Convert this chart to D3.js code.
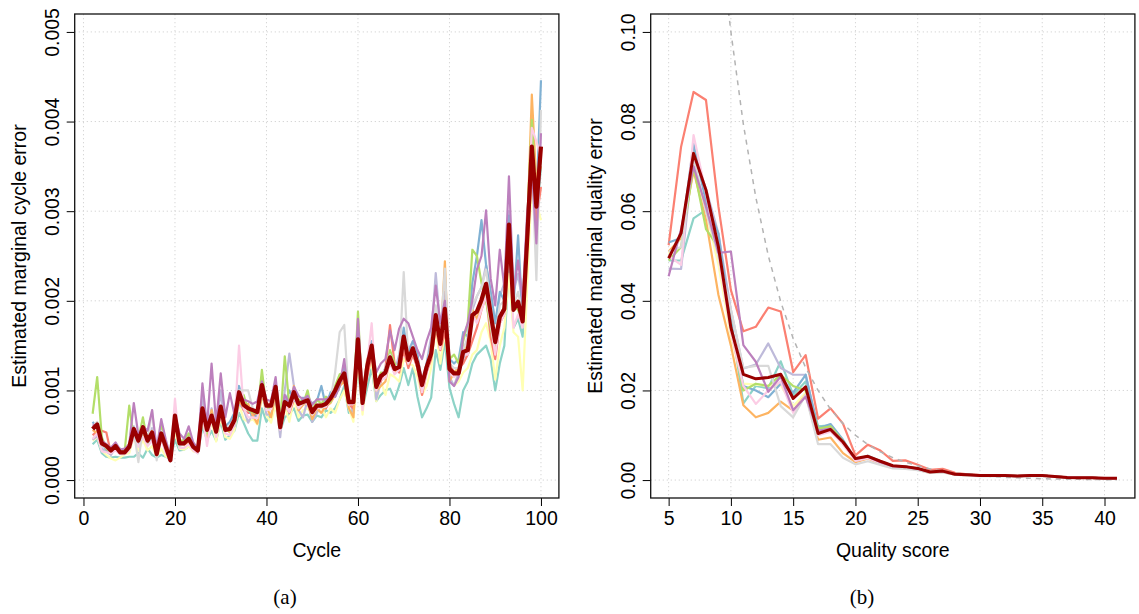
<!DOCTYPE html>
<html>
<head>
<meta charset="utf-8">
<script src="https://cdn.jsdelivr.net/npm/d3@7"></script>
<style>
  body { margin: 0; background: #fff; }
  text { font-family: "Liberation Sans", Arial, sans-serif; }
</style>
</head>
<body>
<svg id="fig"></svg>
<script>
// ---- data: panel (a), marginal cycle error, values in units of 1e-4 ----
var cycles = d3.range(2, 101);
var cycleUnit = 1e-4;

var cycleTeal = [4.0,4.5,3.0,2.6,2.5,2.6,2.5,2.5,2.6,
  2.6,3.0,2.5,3.5,2.8,2.5,2.8,2.6,2.4,4.5,
  3.3,3.4,3.8,3.6,3.0,6.0,4.5,5.5,4.4,6.6,
  4.5,5.0,5.5,7.5,6.4,5.2,4.4,4.4,8.0,6.5,
  7.4,8.5,5.5,7.0,7.4,8.0,6.6,7.2,7.3,6.5,
  7.2,7.0,7.8,7.5,8.0,9.0,10.5,7.5,7.8,12.5,
  8.0,10.3,12.5,8.8,9.5,10.0,10.2,9.0,10.5,12.5,
  10.6,12.5,9.3,7.0,8.0,9.2,14.5,12.3,15.5,10.3,
  8.5,7.0,10.0,11.0,13.0,14.0,14.5,15.0,13.5,10.0,
  13.0,15.0,24.0,17.0,18.0,16.0,25.0,34.0,29.0,35.0];
var cycleYellow = [4.4,4.8,3.3,2.8,2.4,2.2,2.5,2.9,3.0,
  4.8,3.3,4.5,3.3,3.8,2.6,3.5,2.6,2.5,5.5,
  3.5,3.4,3.8,3.2,3.1,6.8,4.3,6.5,4.3,7.0,
  4.8,4.6,5.6,8.5,6.8,6.5,6.8,6.2,9.5,7.2,
  6.4,8.5,5.2,8.2,6.5,9.0,7.0,7.8,8.0,7.4,
  7.5,8.2,7.0,8.0,7.5,9.0,10.0,8.0,6.5,13.5,
  7.3,12.0,13.0,8.8,11.0,9.5,11.8,11.5,11.0,13.5,
  13.0,12.8,11.5,9.5,10.5,12.5,17.0,13.0,16.5,11.5,
  10.5,11.0,12.0,12.5,14.0,14.5,16.5,17.5,15.5,11.2,
  15.0,17.0,23.0,16.5,16.0,10.0,22.0,33.0,31.0,29.0];
var cycleLavender = [4.5,4.9,3.5,3.2,2.8,3.6,3.2,3.3,3.5,
  6.0,4.5,5.2,4.0,5.8,3.0,5.0,3.8,2.4,6.5,
  4.0,4.2,4.8,3.8,3.2,9.5,5.5,8.0,5.6,10.0,
  5.5,6.0,6.0,8.6,7.9,6.4,7.5,7.0,10.3,7.3,
  7.3,9.5,4.8,10.0,14.1,10.5,7.8,7.0,9.0,6.5,
  7.5,8.5,9.0,9.5,9.5,10.8,12.0,9.0,7.5,14.5,
  9.0,13.0,15.5,9.0,11.0,12.5,13.0,12.0,14.0,16.5,
  14.5,15.5,13.8,11.0,13.0,16.0,23.1,17.0,21.0,11.5,
  10.5,12.0,13.5,14.8,19.0,20.5,21.5,24.0,21.0,17.5,
  20.5,22.0,30.0,21.0,23.0,19.5,29.0,36.0,32.0,36.0];
var cycleSalmon = [5.0,5.5,5.5,5.3,3.0,3.8,3.3,3.2,4.0,
  5.0,4.2,5.5,4.8,4.8,3.0,5.2,3.5,2.4,6.8,
  4.5,4.0,4.5,3.5,3.5,7.5,5.8,6.5,6.2,7.0,
  5.5,6.0,6.5,9.5,7.8,7.5,7.5,7.0,9.8,8.5,
  8.5,10.0,6.5,8.5,7.5,9.0,8.5,9.0,8.5,7.5,
  8.0,8.5,8.0,9.0,9.5,10.5,11.5,8.5,8.0,14.0,
  9.0,11.5,14.0,10.5,11.0,12.5,17.3,13.0,12.0,14.5,
  12.5,14.0,12.5,9.5,12.0,13.5,17.0,14.5,16.5,13.0,
  12.0,12.5,13.0,14.0,15.5,17.0,19.0,20.5,16.0,13.5,
  17.5,18.5,26.0,19.5,20.0,19.0,26.0,34.0,29.0,32.7];
var cycleBlue = [6.5,5.8,4.0,3.4,3.0,3.4,3.5,3.1,3.6,
  4.8,4.0,5.5,4.0,5.0,3.0,4.8,3.2,2.8,6.5,
  4.0,4.2,4.5,3.5,3.8,7.5,6.0,6.8,6.0,7.5,
  6.0,6.5,7.5,10.5,8.5,8.0,7.0,7.2,9.5,8.0,
  8.0,9.5,6.0,8.5,10.0,9.0,8.3,9.2,8.5,8.6,
  8.8,10.5,8.2,9.8,9.3,10.5,12.5,8.5,8.8,16.5,
  8.5,12.8,15.5,10.5,11.5,12.5,14.0,12.5,13.0,17.0,
  14.0,15.5,14.0,10.5,13.0,15.0,19.0,16.0,20.0,13.5,
  13.0,13.5,16.5,16.0,22.0,25.0,29.0,24.0,21.0,17.5,
  21.0,20.0,29.5,19.5,27.3,18.0,28.0,36.5,31.0,44.6];
var cycleOrange = [5.6,5.2,4.3,3.5,3.2,3.6,3.0,3.4,3.9,
  5.3,4.3,5.0,4.5,5.5,3.2,4.6,3.4,2.5,6.8,
  4.2,3.9,4.3,3.7,3.6,7.8,4.8,7.8,5.0,8.0,
  5.8,5.3,7.0,8.8,8.2,8.5,7.2,6.3,9.5,8.2,
  7.0,9.8,6.0,8.2,8.0,10.5,7.8,8.4,8.6,6.8,
  8.0,7.5,8.3,8.6,9.5,10.5,11.0,8.0,7.0,15.0,
  9.5,13.5,14.5,10.0,10.5,11.0,13.5,12.0,13.0,15.5,
  13.0,14.5,12.5,10.0,12.5,14.5,19.0,15.0,24.4,11.0,
  12.0,12.5,15.0,14.5,19.0,18.0,19.5,21.0,17.5,14.5,
  18.0,19.0,27.0,19.5,19.0,18.5,28.0,43.0,33.0,35.0];
var cycleGreen = [7.4,11.5,4.8,3.5,3.1,3.9,3.4,3.2,8.3,
  4.6,4.6,7.0,4.2,5.2,3.3,6.2,3.6,2.5,6.8,
  4.3,4.5,5.2,3.8,3.5,7.8,5.2,7.3,5.3,8.2,
  5.6,5.5,6.8,9.0,9.5,7.8,7.6,7.4,12.3,8.0,
  8.2,10.0,6.5,13.8,8.3,9.5,9.0,8.5,10.0,7.6,
  9.0,8.5,9.3,8.7,10.5,11.8,12.0,9.0,8.8,18.8,
  8.8,12.5,14.5,10.5,12.0,12.0,14.5,13.0,12.5,16.0,
  13.0,14.5,12.8,11.0,12.5,14.5,17.0,15.5,18.5,13.5,
  14.0,13.0,15.5,17.5,25.7,25.0,22.0,20.0,17.0,14.5,
  18.0,19.5,27.0,19.5,19.0,17.5,29.0,40.2,31.0,36.0];
var cyclePink = [4.6,5.2,3.2,3.1,3.0,3.3,2.9,2.9,3.3,
  4.8,3.7,4.8,3.8,4.4,2.8,4.6,3.0,2.3,9.1,
  3.6,3.6,4.0,3.3,3.0,7.5,3.8,7.0,4.8,7.5,
  5.2,5.0,6.2,15.0,8.0,7.0,7.0,6.9,10.0,7.8,
  7.9,10.0,5.6,8.4,7.6,9.3,8.0,8.6,8.5,7.3,
  8.0,8.1,8.2,9.0,9.9,11.0,11.5,8.4,8.5,15.5,
  7.8,13.0,17.5,10.0,11.2,11.4,13.2,11.8,12.3,15.4,
  13.0,14.4,12.6,9.8,12.0,14.0,18.0,14.6,18.8,12.0,
  11.5,12.0,14.0,14.0,18.5,17.5,19.0,20.5,17.5,14.0,
  17.5,18.5,27.0,17.0,18.5,17.0,27.0,39.3,37.8,36.0];
var cycleGrey = [6.0,6.5,3.8,3.6,3.2,3.9,3.0,3.0,3.5,
  5.5,2.0,6.0,4.5,7.8,2.2,5.5,4.2,2.3,6.8,
  3.8,4.0,4.8,3.5,3.4,8.2,5.8,7.3,5.2,8.2,
  5.8,6.0,6.8,10.0,10.0,10.0,8.0,7.6,10.5,8.4,
  8.4,10.2,6.0,8.5,8.2,9.8,8.6,8.6,8.7,7.4,
  8.4,8.1,8.4,9.0,12.0,16.5,17.3,9.0,8.6,15.0,
  8.5,12.5,15.0,10.6,11.5,12.5,14.0,12.5,13.0,23.2,
  13.5,15.0,13.5,11.0,12.5,15.0,19.5,16.0,23.6,13.0,
  12.5,12.5,14.5,16.0,19.5,20.5,21.5,23.5,19.5,16.0,
  19.5,20.0,28.0,19.5,21.0,18.5,28.0,36.0,22.3,41.3];
var cyclePurple = [6.2,6.0,4.4,4.0,3.6,4.2,3.4,3.5,4.0,
  8.6,5.0,6.0,5.5,7.8,3.5,6.8,4.5,2.6,7.2,
  5.2,4.6,6.0,4.2,3.5,10.8,6.0,13.0,6.3,11.9,
  7.0,9.7,7.3,9.5,9.0,8.8,8.5,8.8,11.0,9.0,
  8.8,11.5,6.5,9.5,8.6,10.4,9.4,9.0,9.4,8.4,
  9.0,9.0,9.0,9.3,9.3,10.5,13.5,8.8,8.8,18.0,
  9.5,13.2,15.0,12.0,13.0,13.5,16.7,14.5,16.9,18.0,
  17.5,16.0,14.5,13.5,15.5,17.0,21.7,17.5,20.0,11.0,
  10.5,11.5,16.0,17.5,20.0,23.5,25.0,30.1,22.5,19.5,
  25.7,21.5,33.9,21.0,24.5,20.0,30.0,35.0,26.4,38.7];
var cycleMean = [5.7,6.2,4.1,3.8,3.3,3.8,3.1,3.1,3.7,
  5.7,4.4,5.9,4.4,5.3,2.9,5.2,3.7,2.2,7.2,
  4.1,4.1,4.6,3.7,3.3,8.0,5.6,7.2,5.4,8.2,
  5.6,5.7,6.7,9.8,8.4,8.0,7.8,7.6,10.6,8.3,
  8.3,10.4,5.9,8.7,8.3,9.8,8.5,8.7,8.9,7.6,
  8.3,8.3,8.5,9.1,10.0,11.1,11.9,8.7,8.7,15.7,
  8.6,12.6,15.0,10.4,11.6,12.0,13.7,12.4,12.6,16.0,
  13.4,14.7,13.0,10.6,12.6,14.1,18.4,15.2,19.1,12.4,
  11.9,11.9,14.3,14.5,18.4,18.8,20.1,21.9,18.6,15.4,
  18.2,19.1,28.5,19.0,19.9,17.7,27.0,37.2,30.5,37.2];

// ---- data: panel (b), marginal quality error, values in units of 1e-3 ----
var qualities = d3.range(5, 42);
var qualUnit = 1e-3;

var qualTeal = [49,49,58.4,60.3,53,36,17.1,21,20.5,26.5,19,22,12,12.2,8.6,4.6,5.0,4.1,3.1,2.9,2.5,1.7,1.9,1.2,1.2,1.0,1.0,1.0,0.9,1.0,1.0,0.8,0.6,0.5,0.5,0.4,0.4];
var qualYellow = [50.5,54,70,60,48,32,21.5,21.3,21.0,21.2,16.5,19.5,10.5,11,8,4.3,5.0,3.9,3.0,2.8,2.4,1.7,1.9,1.2,1.1,1.0,1.0,1.0,0.9,1.0,1.0,0.8,0.6,0.5,0.5,0.4,0.4];
var qualLavender = [47.2,47.1,73,65,55,38,24.9,25.8,30.5,25,23.5,23.5,11.2,11.8,8.5,4.5,5.2,4.1,3.1,3.0,2.5,1.8,2.0,1.3,1.2,1.0,1.0,1.0,0.9,1.0,1.0,0.8,0.6,0.5,0.5,0.4,0.4];
var qualSalmon = [52.4,74.4,86.6,84.8,61,42.4,33.2,34.2,38.5,37.6,24.1,27.9,13.7,16.0,12.6,5.5,7.9,6.6,4.3,4.4,3.4,2.3,2.5,1.6,1.3,1.1,1.0,1.0,0.9,1.0,1.0,0.8,0.6,0.5,0.5,0.4,0.4];
var qualBlue = [53,54,75,62,55,35,21,20,18.5,21.5,19.5,23.5,11.5,12.5,9,4.6,5.4,4.2,3.2,3.0,2.6,1.8,2.0,1.3,1.2,1.0,1.0,1.0,0.9,1.0,1.0,0.8,0.6,0.5,0.5,0.4,0.4];
var qualOrange = [51,54,69,58,41.3,30,16.7,14,15,17.5,15.5,19,9,9.5,6,4.0,4.8,3.6,2.9,2.7,2.3,1.6,1.8,1.2,1.1,1.0,1.0,1.0,0.9,1.0,1.0,0.8,0.6,0.5,0.5,0.4,0.4];
var qualGreen = [49,52,70,56,52,34,20,21.5,21,23.5,21,20,11.5,12,8.7,4.7,5.3,4.2,3.2,3.0,2.6,1.8,2.0,1.3,1.2,1.0,1.0,1.0,0.9,1.0,1.0,0.8,0.6,0.5,0.5,0.4,0.4];
var qualPink = [50,48,77,64,50,33,21,17,20,22,15,19,10,10.8,8,4.3,4.9,3.8,3.0,2.8,2.4,1.7,1.9,1.2,1.1,1.0,1.0,1.0,0.9,1.0,1.0,0.8,0.6,0.5,0.5,0.4,0.4];
var qualGrey = [51,52,72,60,50,38,25,25.5,25.5,16.5,14,19,8,8,5,3.5,4.2,3.4,2.6,2.5,2.2,1.6,1.7,1.2,1.0,0.9,0.9,0.9,0.8,0.9,0.9,0.7,0.6,0.5,0.5,0.4,0.4];
var qualPurple = [45.5,56,70,61,50.7,51,30.1,26.4,19.7,23.1,15.6,18.6,11,11.5,8.5,4.7,5.3,4.0,3.1,3.0,2.5,1.8,2.0,1.3,1.2,1.0,1.0,1.0,0.9,1.0,1.0,0.8,0.6,0.5,0.5,0.4,0.4];
var qualMean = [49.5,55.1,72.9,64.7,52,34,23.6,22.6,22.9,23.6,18.2,20.8,10.4,11.3,8.5,4.8,5.3,4.2,3.2,3.0,2.6,1.8,2.0,1.3,1.2,1.0,1.0,1.0,0.9,1.0,1.0,0.8,0.6,0.5,0.5,0.4,0.4];

// nominal Phred error (dashed reference curve)
var nominalQ = [9.8,10,11,12,13,14,15,16,17,18,19,20,21,22,23,24,25,26,27,28,29,30,31,32,33,34,35,36,37,38,39,40,41];
var nominalErr = [0.1047,0.1,0.0794,0.0631,0.0501,0.0398,0.0316,0.0251,0.0200,0.0158,0.0126,0.0100,0.0079,0.0063,0.0050,0.0040,0.0032,0.0025,0.0020,0.0016,0.0013,0.0010,0.0008,0.0006,0.0005,0.0004,0.0003,0.00025,0.0002,0.00016,0.00013,0.0001,0.00008];

var laneColors = ["#8DD3C7","#FFFFB3","#BEBADA","#FB8072","#80B1D3","#FDB462","#B3DE69","#FCCDE5","#D9D9D9","#BC80BD"];
var meanColor = "#990000";

var cycleLanes = [cycleTeal, cycleYellow, cycleLavender, cycleSalmon, cycleBlue,
  cycleOrange, cycleGreen, cyclePink, cycleGrey, cyclePurple];
var qualLanes = [qualTeal, qualYellow, qualLavender, qualSalmon, qualBlue,
  qualOrange, qualGreen, qualPink, qualGrey, qualPurple];

// ---- layout ----
var svgWidth = 1139, svgHeight = 614;
var plotTop = 14, plotBottom = 498;
var fontSize = "19.5px";

var svg = d3.select("#fig")
  .attr("width", svgWidth)
  .attr("height", svgHeight)
  .style("display", "block");

svg.append("rect").attr("width", svgWidth).attr("height", svgHeight).attr("fill", "#fff");

function drawPanel(p) {
  var x = d3.scaleLinear().domain(p.xDomain).range([p.left, p.right]);
  var y = d3.scaleLinear().domain(p.yDomain).range([plotBottom, plotTop]);
  var g = svg.append("g");

  g.append("clipPath").attr("id", p.id + "clip")
    .append("rect")
    .attr("x", p.left).attr("y", plotTop)
    .attr("width", p.right - p.left).attr("height", plotBottom - plotTop);

  // dotted grid
  g.selectAll("line.vgrid").data(p.xTicks).enter().append("line")
    .attr("x1", d => x(d)).attr("x2", d => x(d))
    .attr("y1", plotTop).attr("y2", plotBottom)
    .attr("stroke", "#d6d6d6").attr("stroke-dasharray", "1.3,2.7");
  g.selectAll("line.hgrid").data(p.yTicks).enter().append("line")
    .attr("y1", d => y(d)).attr("y2", d => y(d))
    .attr("x1", p.left).attr("x2", p.right)
    .attr("stroke", "#d6d6d6").attr("stroke-dasharray", "1.3,2.7");

  var lines = g.append("g").attr("clip-path", "url(#" + p.id + "clip)");
  var line = d3.line().x(d => x(d[0])).y(d => y(d[1]));

  p.lanes.forEach(function(vals, i) {
    lines.append("path")
      .datum(p.xs.map((q, j) => [q, vals[j] * p.unit]))
      .attr("d", line)
      .attr("fill", "none")
      .attr("stroke", laneColors[i])
      .attr("stroke-width", 2.2)
      .attr("stroke-linejoin", "round");
  });

  if (p.nominal) {
    lines.append("path")
      .datum(nominalQ.map((q, j) => [q, nominalErr[j]]))
      .attr("d", line)
      .attr("fill", "none")
      .attr("stroke", "#b3b3b3")
      .attr("stroke-width", 1.5)
      .attr("stroke-dasharray", "5,5");
  }

  lines.append("path")
    .datum(p.xs.map((q, j) => [q, p.mean[j] * p.unit]))
    .attr("d", line)
    .attr("fill", "none")
    .attr("stroke", meanColor)
    .attr("stroke-width", p.meanWidth)
    .attr("stroke-linejoin", "round");

  // axes
  var xAxis = g.append("g")
    .attr("transform", `translate(0, ${plotBottom})`)
    .call(d3.axisBottom(x).tickValues(p.xTicks).tickSize(8).tickPadding(5));
  var yAxis = g.append("g")
    .attr("transform", `translate(${p.left}, 0)`)
    .call(d3.axisLeft(y).tickValues(p.yTicks).tickFormat(p.yFormat).tickSize(8).tickPadding(6));
  [xAxis, yAxis].forEach(function(a) {
    a.select(".domain").remove();
    a.selectAll("line").attr("stroke", "#000");
    a.selectAll("text").attr("fill", "#000").style("font-size", fontSize)
      .style("font-family", "'Liberation Sans', Arial, sans-serif");
  });
  // rotated y tick labels (parallel to axis)
  yAxis.selectAll(".tick text")
    .attr("x", null).attr("dy", null)
    .attr("text-anchor", "middle")
    .attr("transform", "translate(-16,0) rotate(-90)");

  // box
  g.append("rect")
    .attr("x", p.left).attr("y", plotTop)
    .attr("width", p.right - p.left).attr("height", plotBottom - plotTop)
    .attr("fill", "none").attr("stroke", "#111").attr("stroke-width", 1.3);

  // axis titles
  g.append("text")
    .attr("x", (p.left + p.right) / 2).attr("y", 557)
    .attr("text-anchor", "middle")
    .style("font-size", fontSize)
    .text(p.xTitle);
  g.append("text")
    .attr("transform", `translate(${p.left - 49}, ${(plotTop + plotBottom) / 2}) rotate(-90)`)
    .attr("text-anchor", "middle")
    .style("font-size", fontSize)
    .text(p.yTitle);

  // subfigure caption
  g.append("text")
    .attr("x", p.captionX).attr("y", 604)
    .attr("text-anchor", "middle")
    .style("font-family", "'Liberation Serif', 'DejaVu Serif', serif")
    .style("font-size", "21px")
    .text(p.caption);
}

drawPanel({
  id: "a",
  left: 74.7, right: 558.9,
  xDomain: [-1.92, 103.92],
  yDomain: [-0.0002, 0.0052],
  xTicks: [0, 20, 40, 60, 80, 100],
  yTicks: [0, 0.001, 0.002, 0.003, 0.004, 0.005],
  yFormat: d3.format(".3f"),
  xs: cycles, lanes: cycleLanes, mean: cycleMean, unit: cycleUnit,
  meanWidth: 4.2,
  nominal: false,
  xTitle: "Cycle",
  yTitle: "Estimated marginal cycle error",
  caption: "(a)", captionX: 285
});

drawPanel({
  id: "b",
  left: 650.7, right: 1134.9,
  xDomain: [3.56, 42.44],
  yDomain: [-0.004, 0.104],
  xTicks: [5, 10, 15, 20, 25, 30, 35, 40],
  yTicks: [0, 0.02, 0.04, 0.06, 0.08, 0.10],
  yFormat: d3.format(".2f"),
  xs: qualities, lanes: qualLanes, mean: qualMean, unit: qualUnit,
  meanWidth: 3,
  nominal: true,
  xTitle: "Quality score",
  yTitle: "Estimated marginal quality error",
  caption: "(b)", captionX: 862
});
</script>
</body>
</html>
